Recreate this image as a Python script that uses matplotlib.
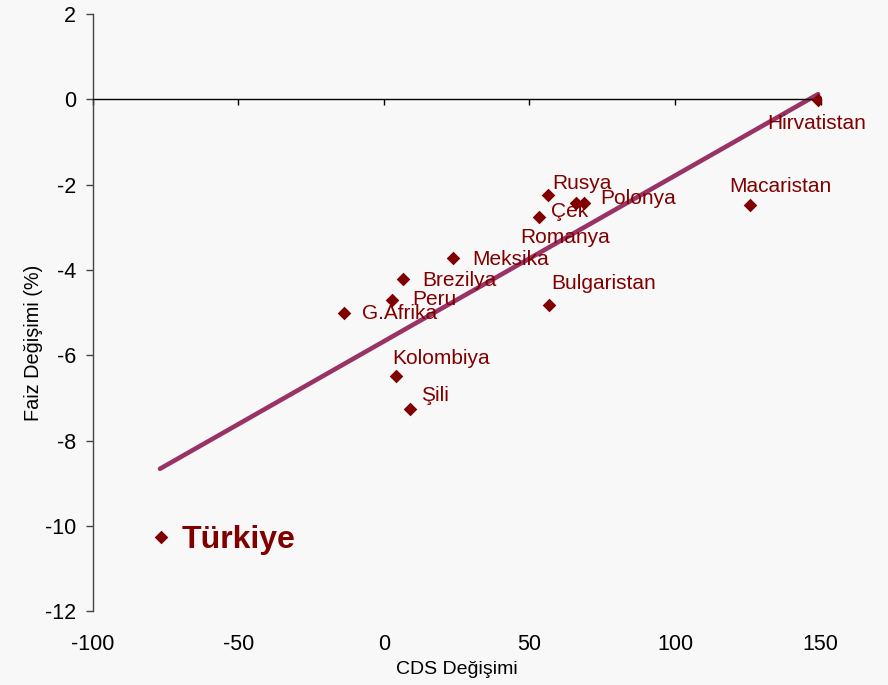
import matplotlib
matplotlib.use("Agg")
import matplotlib.pyplot as plt

plt.rcParams['font.family'] = ['Liberation Sans', 'DejaVu Sans']

countries = ["Türkiye", "Hirvatistan", "Macaristan", "Rusya", "Polonya", "Romanya",
             "Çek", "Meksika", "Brezilya", "Peru", "G.Afrika", "Bulgaristan",
             "Kolombiya", "Şili"]
cds_change = [-76.6, 149.2, 125.7, 56.5, 68.7, 66.0, 53.2, 23.8, 6.7, 2.7, -13.7, 56.6, 4.2, 9.0]
rate_change = [-10.26, -0.02, -2.48, -2.24, -2.44, -2.44, -2.75, -3.73, -4.22, -4.70, -5.00, -4.82, -6.48, -7.25]

trend_x = [-76.9, 149.1]
trend_y = [-8.66, 0.12]

x_ticks = [-100, -50, 0, 50, 100, 150]
y_ticks = [2, 0, -2, -4, -6, -8, -10, -12]

# label offsets in pixels (style)
offsets = {
    "Türkiye": (21, -3), "Hirvatistan": (-51, -23), "Macaristan": (-21, 19),
    "Rusya": (4, 11), "Polonya": (16, 5), "Romanya": (-56, -34), "Çek": (12, 5),
    "Meksika": (19, -1), "Brezilya": (19, -1), "Peru": (20, 0), "G.Afrika": (18, -1),
    "Bulgaristan": (3, 21), "Kolombiya": (-4, 17), "Şili": (11, 13),
}

bg = '#f8f8f8'
dark = '#800000'
fig = plt.figure(figsize=(8.88, 6.85), dpi=100, facecolor=bg)
ax = fig.add_axes([0.1044, 0.1076, 0.8198, 0.872])
ax.set_facecolor(bg)

ax.plot(trend_x, trend_y, color='#993366', lw=3.3, solid_capstyle='round', zorder=2)
ax.scatter(cds_change, rate_change, marker='D', s=48, color=dark, zorder=3, linewidths=0)

for name, x, y in zip(countries, cds_change, rate_change):
    dx, dy = offsets[name]
    if name == "Türkiye":
        ax.annotate(name, (x, y), xytext=(dx, dy), textcoords='offset pixels',
                    ha='left', va='center', color=dark, fontsize=23, fontweight='bold', zorder=4)
    else:
        ax.annotate(name, (x, y), xytext=(dx, dy), textcoords='offset pixels',
                    ha='left', va='center', color=dark, fontsize=15, zorder=4)

ax.set_xlim(-100, 150)
ax.set_ylim(-12, 2)

# axes styling
ax.spines['top'].set_visible(False)
ax.spines['right'].set_visible(False)
ax.spines['left'].set_color('#444444')
ax.spines['left'].set_linewidth(1.0)
ax.spines['bottom'].set_position(('data', 0))
ax.spines['bottom'].set_color('black')
ax.spines['bottom'].set_linewidth(1.0)

ax.set_yticks(y_ticks)
ax.set_yticklabels([str(t) for t in y_ticks])
ax.tick_params(axis='y', direction='out', length=5, width=1, color='#444444',
               labelsize=15.5, pad=7)

ax.set_xticks(x_ticks)
ax.tick_params(axis='x', direction='out', length=4, width=1, labelbottom=False)

sec = ax.secondary_xaxis('bottom')
sec.set_xticks(x_ticks)
sec.set_xticklabels([str(t) for t in x_ticks])
sec.spines['bottom'].set_visible(False)
sec.tick_params(axis='x', length=0, labelsize=15.5, pad=16)
sec.set_xlabel('CDS Değişimi', fontsize=14, labelpad=5)

ax.set_ylabel('Faiz Değişimi (%)', fontsize=14.3)
ax.yaxis.set_label_coords(-0.068, 0.449)

fig.savefig('out.png', dpi=100, facecolor=bg)
